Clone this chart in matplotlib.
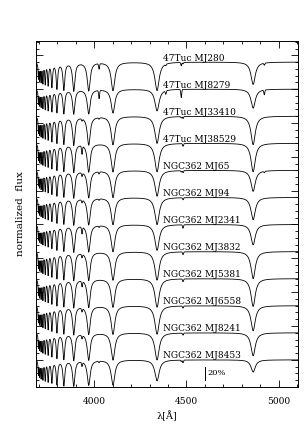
import numpy as np
import matplotlib
matplotlib.use("Agg")
import matplotlib.pyplot as plt
from matplotlib.ticker import MultipleLocator, NullFormatter

# ---- data ----
star_names = ["47Tuc MJ280", "47Tuc MJ8279", "47Tuc MJ33410", "47Tuc MJ38529",
              "NGC362 MJ65", "NGC362 MJ94", "NGC362 MJ2341", "NGC362 MJ3832",
              "NGC362 MJ5381", "NGC362 MJ6558", "NGC362 MJ8241", "NGC362 MJ8453"]

# Balmer series: centre (A) and Lorentzian half width (A)
balmer_center = [4861.3, 4340.5, 4101.7, 3970.1, 3889.0, 3835.4, 3797.9,
                 3770.6, 3750.2, 3734.4, 3721.9, 3712.0, 3703.9, 3697.2]
balmer_width = [14.0, 14.0, 12.0, 9.5, 7.5, 6.0, 5.0, 4.2, 3.5, 3.0, 2.6, 2.3, 2.0, 1.8]

# depth of each Balmer line per star (Hb, Hg, Hd, He, H8, H9, H10, H11, H12, H13..H17)
balmer_depth = {
    "47Tuc MJ280":   [0.33, 0.42, 0.42, 0.42, 0.42, 0.40, 0.38, 0.35, 0.32, 0.30, 0.28, 0.26, 0.24, 0.22],
    "47Tuc MJ8279":  [0.28, 0.32, 0.35, 0.36, 0.36, 0.35, 0.33, 0.31, 0.29, 0.27, 0.25, 0.23, 0.21, 0.20],
    "47Tuc MJ33410": [0.42, 0.40, 0.42, 0.42, 0.42, 0.40, 0.38, 0.35, 0.32, 0.30, 0.28, 0.26, 0.24, 0.22],
    "47Tuc MJ38529": [0.42, 0.42, 0.42, 0.42, 0.42, 0.40, 0.38, 0.35, 0.32, 0.30, 0.28, 0.26, 0.24, 0.22],
    "NGC362 MJ65":   [0.31, 0.38, 0.40, 0.40, 0.40, 0.38, 0.36, 0.33, 0.30, 0.28, 0.26, 0.24, 0.22, 0.20],
    "NGC362 MJ94":   [0.33, 0.40, 0.40, 0.40, 0.40, 0.38, 0.36, 0.33, 0.30, 0.28, 0.26, 0.24, 0.22, 0.20],
    "NGC362 MJ2341": [0.30, 0.38, 0.40, 0.40, 0.40, 0.38, 0.36, 0.33, 0.30, 0.28, 0.26, 0.24, 0.22, 0.20],
    "NGC362 MJ3832": [0.40, 0.42, 0.42, 0.42, 0.42, 0.40, 0.38, 0.35, 0.32, 0.30, 0.28, 0.26, 0.24, 0.22],
    "NGC362 MJ5381": [0.41, 0.42, 0.42, 0.42, 0.42, 0.40, 0.38, 0.35, 0.32, 0.30, 0.28, 0.26, 0.24, 0.22],
    "NGC362 MJ6558": [0.37, 0.42, 0.42, 0.42, 0.42, 0.40, 0.38, 0.35, 0.32, 0.30, 0.28, 0.26, 0.24, 0.22],
    "NGC362 MJ8241": [0.34, 0.40, 0.40, 0.40, 0.40, 0.38, 0.36, 0.33, 0.30, 0.28, 0.26, 0.24, 0.22, 0.20],
    "NGC362 MJ8453": [0.18, 0.31, 0.37, 0.37, 0.38, 0.37, 0.35, 0.32, 0.30, 0.28, 0.26, 0.24, 0.22, 0.20],
}

# weak lines: Ca II K, He I 4026, He I 4388, He I 4471, Mg II 4481, He I 4922
weak_center = [3933.7, 4026.2, 4387.9, 4471.5, 4481.2, 4921.9]
weak_width = [2.5, 2.5, 2.5, 2.5, 2.5, 2.5]
weak_depth = {
    "47Tuc MJ280":   [0.00, 0.08, 0.02, 0.05, 0.02, 0.03],
    "47Tuc MJ8279":  [0.00, 0.12, 0.05, 0.12, 0.00, 0.07],
    "47Tuc MJ33410": [0.03, 0.02, 0.00, 0.02, 0.03, 0.00],
    "47Tuc MJ38529": [0.12, 0.00, 0.00, 0.00, 0.04, 0.00],
    "NGC362 MJ65":   [0.05, 0.03, 0.00, 0.02, 0.03, 0.02],
    "NGC362 MJ94":   [0.04, 0.02, 0.00, 0.00, 0.03, 0.00],
    "NGC362 MJ2341": [0.10, 0.02, 0.00, 0.00, 0.05, 0.00],
    "NGC362 MJ3832": [0.05, 0.00, 0.00, 0.00, 0.04, 0.00],
    "NGC362 MJ5381": [0.08, 0.00, 0.00, 0.00, 0.04, 0.00],
    "NGC362 MJ6558": [0.05, 0.00, 0.00, 0.00, 0.03, 0.00],
    "NGC362 MJ8241": [0.05, 0.00, 0.00, 0.00, 0.03, 0.00],
    "NGC362 MJ8453": [0.06, 0.02, 0.00, 0.02, 0.04, 0.00],
}

offset_step = 0.4          # vertical shift between spectra
label_wave = 4375.0        # where star labels start
scale_bar_wave = 4600.0
scale_bar = (0.70, 0.90)   # 20% bar
xlim = (3685, 5103)
ylim = (0.60, 5.71)

# ---- plot ----
plt.rcParams["font.family"] = ["DejaVu Serif"]
fig = plt.figure(figsize=(3.06, 4.28), dpi=100)
ax = fig.add_axes([0.118, 0.096, 0.855, 0.808])

wave = np.linspace(xlim[0], xlim[1], 4000)
n = len(star_names)
for i, name in enumerate(star_names):
    base = 1.0 + offset_step * (n - 1 - i)
    flux = np.ones_like(wave)
    for c, w, d in zip(balmer_center, balmer_width, balmer_depth[name]):
        flux -= d / (1.0 + ((wave - c) / w) ** 2)
    for c, w, d in zip(weak_center, weak_width, weak_depth[name]):
        flux -= d * np.exp(-0.5 * ((wave - c) / w) ** 2)
    ax.plot(wave, flux - 1.0 + base, color="black", lw=0.6)
    ax.text(label_wave, base + 0.02, name, fontsize=6.5, ha="left", va="baseline")

ax.plot([scale_bar_wave, scale_bar_wave], scale_bar, color="black", lw=0.7)
ax.text(scale_bar_wave + 15, np.mean(scale_bar), "20%", fontsize=6, ha="left", va="center")

ax.set_xlim(*xlim)
ax.set_ylim(*ylim)
ax.xaxis.set_major_locator(MultipleLocator(500))
ax.xaxis.set_minor_locator(MultipleLocator(100))
ax.yaxis.set_major_locator(MultipleLocator(0.5))
ax.yaxis.set_minor_locator(MultipleLocator(0.1))
ax.yaxis.set_major_formatter(NullFormatter())
ax.tick_params(which="both", direction="in", top=True, right=True, width=0.6, labelsize=6.5, pad=7.5)
ax.tick_params(which="major", length=5)
ax.tick_params(which="minor", length=2.5)
for s in ax.spines.values():
    s.set_linewidth(0.7)
ax.set_xlabel("λ[Å]", fontsize=7)
ax.xaxis.set_label_coords(0.5, -0.069)
ax.set_ylabel("normalized  flux", fontsize=7.5)
ax.yaxis.set_label_coords(-0.042, 0.5)

fig.savefig("out.png", dpi=100)
